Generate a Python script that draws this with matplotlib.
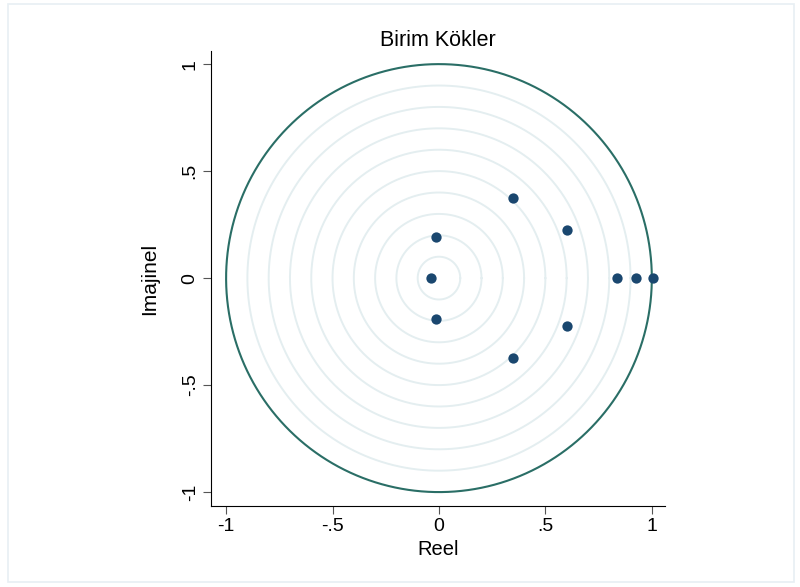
import matplotlib.pyplot as plt
import numpy as np

# kok degerleri (reel, imajinel)
reel = [0.347, 0.347, 0.601, 0.601, -0.014, -0.014, -0.038, 0.836, 0.925, 1.005]
imaj = [0.374, -0.374, 0.224, -0.224, 0.19, -0.19, 0.0, 0.0, 0.0, 0.0]
ticks = [-1, -0.5, 0, 0.5, 1]
tick_labels = ['-1', '-.5', '0', '.5', '1']
ring_radii = [0.1, 0.2, 0.3, 0.4, 0.5, 0.6, 0.7, 0.8, 0.9]

plt.rcParams['font.family'] = ['Liberation Sans', 'DejaVu Sans']

fig = plt.figure(figsize=(8, 5.87), dpi=100)
fig.patches.append(plt.Rectangle((0.01, 0.008), 0.982, 0.986, transform=fig.transFigure,
                                 fill=False, edgecolor='#e8eff3', linewidth=1.2))
ax = fig.add_axes([0.264, 0.138, 0.567, 0.775])

t = np.linspace(0, 2*np.pi, 400)
for r in ring_radii:
    ax.plot(r*np.cos(t), r*np.sin(t), color='#e4eef0', linewidth=1.4, zorder=1)
ax.plot(np.cos(t), np.sin(t), color='#2a6e66', linewidth=1.5, zorder=2)

ax.scatter(reel, imaj, color='#1a476f', s=55, zorder=3, linewidths=0)

ax.set_xlim(-1.07, 1.061)
ax.set_ylim(-1.065, 1.061)
ax.spines['top'].set_visible(False)
ax.spines['right'].set_visible(False)
ax.set_xticks(ticks)
ax.set_xticklabels(tick_labels, fontsize=14)
ax.set_yticks(ticks)
ax.set_yticklabels(tick_labels, fontsize=14, rotation=90, va='center')
ax.tick_params(length=6, color='#555555', pad=3)
ax.set_xlabel('Reel', fontsize=14.5, labelpad=3)
ax.set_ylabel('Imajinel', fontsize=15, labelpad=16)
ax.set_title('Birim Kökler', fontsize=15.5, pad=4)

plt.savefig('out.png', dpi=100)
